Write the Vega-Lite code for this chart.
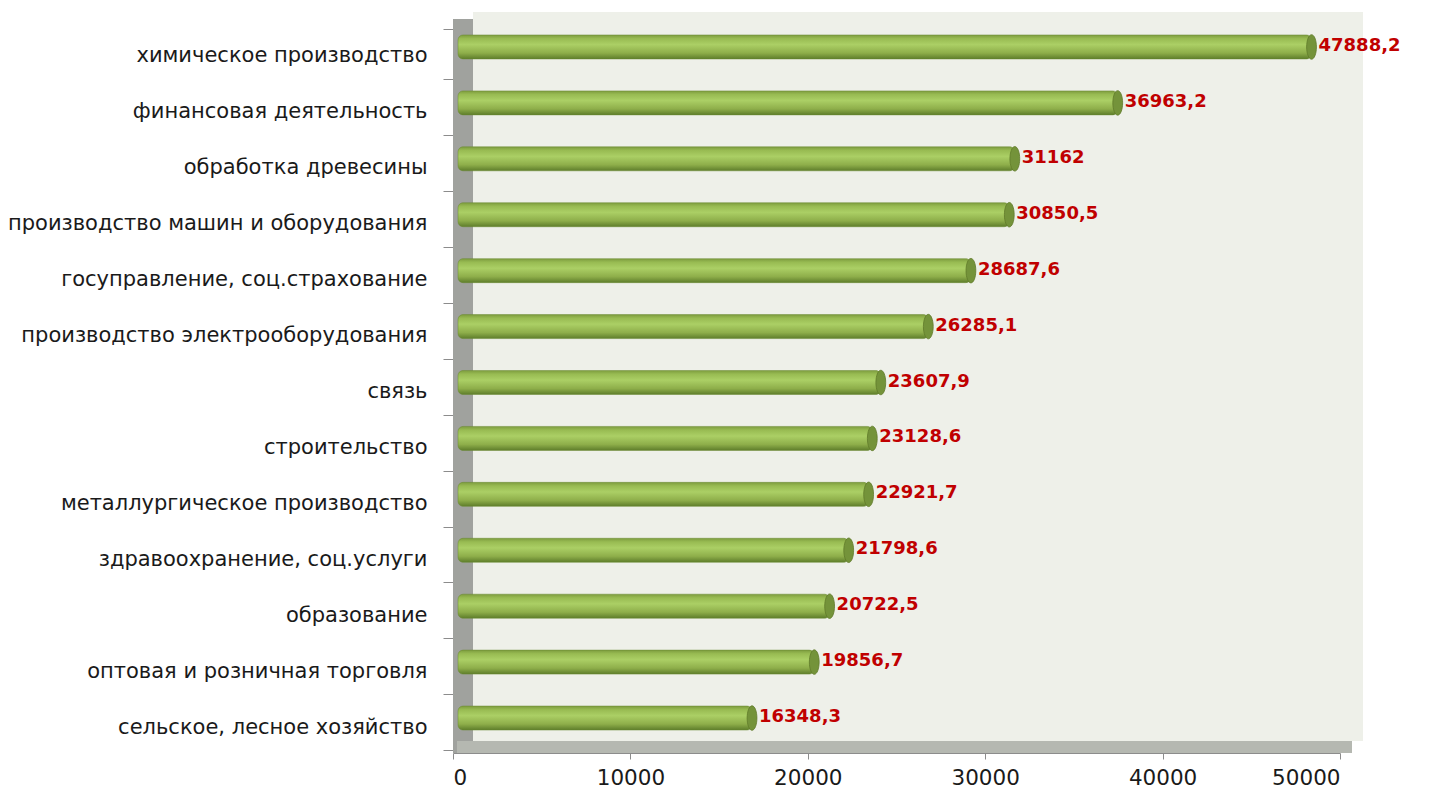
{
  "$schema": "https://vega.github.io/schema/vega-lite/v6.json",
  "width": 887,
  "height": 727,
  "autosize": {"type": "none"},
  "padding": {"left": 453, "top": 26, "right": 91, "bottom": 40},
  "background": "white",
  "config": {
    "view": {"stroke": null},
    "locale": {"number": {"decimal": ",", "thousands": " ", "grouping": [3], "currency": ["", ""]}}
  },
  "datasets": {
    "d": [
      {"sector": "химическое производство", "value": 47888.2},
      {"sector": "финансовая деятельность", "value": 36963.2},
      {"sector": "обработка древесины", "value": 31162},
      {"sector": "производство машин и оборудования", "value": 30850.5},
      {"sector": "госуправление, соц.страхование ", "value": 28687.6},
      {"sector": "производство электрооборудования", "value": 26285.1},
      {"sector": "связь", "value": 23607.9},
      {"sector": "строительство", "value": 23128.6},
      {"sector": "металлургическое производство", "value": 22921.7},
      {"sector": "здравоохранение, соц.услуги", "value": 21798.6},
      {"sector": "образование", "value": 20722.5},
      {"sector": "оптовая и розничная торговля", "value": 19856.7},
      {"sector": "сельское,  лесное хозяйство", "value": 16348.3}
    ]
  },
  "layer": [
    {
      "data": {"values": [{}]},
      "layer": [
        {
          "mark": {"type": "rect", "color": "#a0a29e", "y2Offset": -7},
          "encoding": {
            "x": {"datum": 0, "type": "quantitative", "title": null, "scale": {"domain": [0, 50000]}},
            "x2": {"datum": 1130},
            "y": {"datum": 0, "type": "quantitative", "scale": {"domain": [0, 1]}, "axis": null},
            "y2": {"datum": 1}
          }
        },
        {
          "mark": {"type": "rect", "color": "#eef0e9", "xOffset": 20, "x2Offset": 23, "yOffset": -12, "y2Offset": -14},
          "encoding": {
            "x": {"datum": 0, "type": "quantitative", "title": null, "scale": {"domain": [0, 50000]}},
            "x2": {"datum": 50000},
            "y": {"datum": 0, "type": "quantitative", "scale": {"domain": [0, 1]}, "axis": null},
            "y2": {"datum": 1}
          }
        },
        {
          "mark": {"type": "rect", "color": "#b5b8b1", "xOffset": 4, "x2Offset": 12, "y2Offset": -12},
          "encoding": {
            "x": {"datum": 0, "type": "quantitative", "title": null, "scale": {"domain": [0, 50000]}},
            "x2": {"datum": 50000},
            "y": {"datum": 0, "type": "quantitative", "scale": {"domain": [0, 1]}, "axis": null},
            "y2": {"datum": 0}
          }
        }
      ]
    },
    {
      "data": {"name": "d"},
      "encoding": {
        "y": {
          "field": "sector", "type": "nominal", "sort": null, "title": null,
          "axis": {
            "tickBand": "extent", "tickSize": 10, "tickColor": "#8c8c8c", "domain": false,
            "labelFont": "DejaVu Sans", "labelFontSize": 21, "labelColor": "#1a1a1a",
            "labelPadding": 16, "labelLimit": 460, "labelOffset": 2
          }
        }
      },
      "layer": [
        {
          "mark": {
            "type": "bar", "height": 24, "xOffset": 9, "x2Offset": 5, "yOffset": -7, "cornerRadius": 5,
            "stroke": "#6b8a33", "strokeWidth": 0.5,
            "fill": {
              "gradient": "linear", "x1": 0, "y1": 0, "x2": 0, "y2": 1,
              "stops": [
                {"offset": 0, "color": "#7d9c3e"},
                {"offset": 0.15, "color": "#98bb52"},
                {"offset": 0.4, "color": "#abcf65"},
                {"offset": 0.75, "color": "#8eae4a"},
                {"offset": 1, "color": "#5e7d2b"}
              ]
            }
          },
          "encoding": {
            "x": {
              "field": "value", "type": "quantitative", "title": null,
              "scale": {"domain": [0, 50000]},
              "axis": {
                "values": [0, 10000, 20000, 30000, 40000, 50000], "format": "d", "grid": false,
                "domainColor": "#8c8c8c", "tickColor": "#8c8c8c", "tickSize": 6,
                "labelFont": "DejaVu Sans", "labelFontSize": 21.5, "labelColor": "#1a1a1a", "labelPadding": 8
              }
            },
            "x2": {"datum": 0}
          }
        },
        {
          "mark": {
            "type": "point", "filled": true, "size": 600, "xOffset": 9, "yOffset": -7,
            "shape": "M0,-1 C0.221,-1 0.4,-0.552 0.4,0 C0.4,0.552 0.221,1 0,1 C-0.221,1 -0.4,0.552 -0.4,0 C-0.4,-0.552 -0.221,-1 0,-1 Z",
            "color": "#74933a", "stroke": "#5f7a2a", "strokeWidth": 0.8, "opacity": 1
          },
          "encoding": {
            "x": {"field": "value", "type": "quantitative"}
          }
        },
        {
          "mark": {
            "type": "text", "align": "left", "baseline": "middle", "dx": 16, "dy": -8,
            "font": "DejaVu Sans", "fontSize": 18, "fontWeight": "bold", "color": "#c00000"
          },
          "encoding": {
            "x": {"field": "value", "type": "quantitative"},
            "text": {"field": "value", "type": "quantitative", "format": "~f"}
          }
        }
      ]
    }
  ],
  "resolve": {"scale": {"y": "independent"}}
}
